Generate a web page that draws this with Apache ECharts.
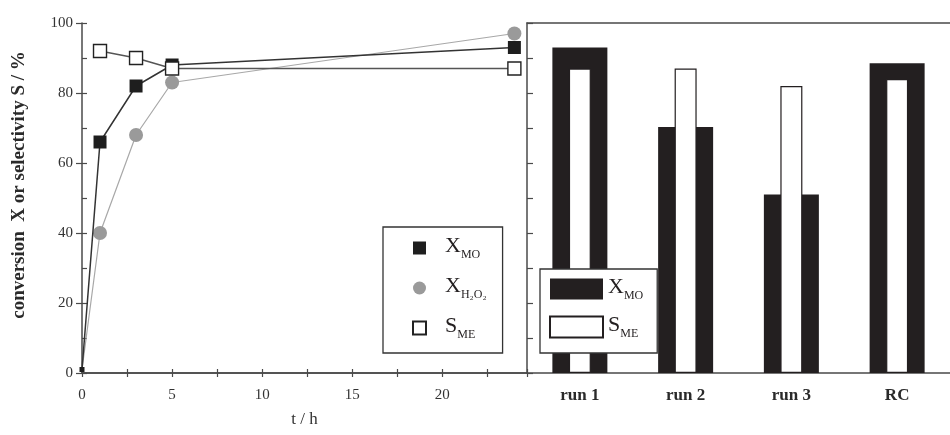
<!DOCTYPE html>
<html>
<head>
<meta charset="utf-8">
<script src="https://cdn.jsdelivr.net/npm/echarts@6/dist/echarts.min.js"></script>
<style>
  html, body { margin: 0; padding: 0; background: #fff; }
  #chart { width: 950px; height: 435px; }
</style>
</head>
<body>
<div id="chart"></div>
<script>
// Reaction time course (left panel)
const timeHours = [0, 1, 3, 5, 24];
const convMO = [1, 66, 82, 88, 93];
const convH2O2 = [1, 40, 68, 83, 97];
const selTime = [1, 3, 5, 24];
const selME = [92, 90, 87, 87];

// Catalyst reuse runs (right panel)
const runLabels = ['run 1', 'run 2', 'run 3', 'RC'];
const runConvMO = [93, 70.3, 51, 88.5];
const runSelME = [87, 87, 82, 84];

const yTicks = [0, 20, 40, 60, 80, 100];

const SERIF = '"Liberation Serif", "DejaVu Serif", serif';
const AX = '#4a4a4a';
const INK = '#231f20';

const pairs = (xs, ys) => xs.map((x, i) => [x, ys[i]]);

// legend labels: large letter with a lowered subscript
const richFor = (pad) => ({
  main: { fontFamily: SERIF, fontSize: 22, color: INK, lineHeight: 26, padding: [0, 0, 4, pad] },
  sub: { fontFamily: SERIF, fontSize: 12, color: INK, lineHeight: 12, verticalAlign: 'bottom' }
});
const legendText = {
  'X_MO': '{main|X}{sub|MO}',
  'X_H2O2': '{main|X}{sub|H₂O₂}',
  'S_ME': '{main|S}{sub|ME}',
  'X_MO runs': '{main|X}{sub|MO}',
  'S_ME runs': '{main|S}{sub|ME}'
};

const chart = echarts.init(document.getElementById('chart'), null, { renderer: 'canvas' });

const option = {
  backgroundColor: '#fff',
  animation: false,
  grid: [
    { left: 82, top: 23, width: 445, height: 350 },
    { left: 527, top: 23, right: -8, height: 350 }
  ],
  xAxis: [
    {
      gridIndex: 0, type: 'value', position: 'bottom', min: 0, max: 24.7, interval: 2.5,
      axisLine: { lineStyle: { color: AX, width: 1.5 } },
      axisTick: { inside: true, length: 4, lineStyle: { color: AX, width: 1.2 } },
      splitLine: { show: false },
      axisLabel: {
        margin: 15, fontFamily: SERIF, fontSize: 15, color: '#333',
        formatter: v => (v % 5 === 0 ? String(v) : '')
      },
      name: 't / h', nameLocation: 'middle', nameGap: 38,
      nameTextStyle: { fontFamily: SERIF, fontSize: 17, color: '#333' }
    },
    {
      gridIndex: 0, type: 'value', position: 'top', min: 0, max: 24.7, interval: 2.5,
      axisLine: { lineStyle: { color: AX, width: 1.5 } },
      axisTick: { inside: true, length: 4, lineStyle: { color: AX, width: 1.2 } },
      splitLine: { show: false },
      axisLabel: { show: false }
    },
    {
      gridIndex: 1, type: 'category', position: 'bottom', data: runLabels,
      axisLine: { lineStyle: { color: AX, width: 1.5 } },
      axisTick: { alignWithLabel: true, inside: true, length: 2, lineStyle: { color: AX } },
      axisLabel: {
        margin: 14, fontFamily: SERIF, fontSize: 17, fontWeight: 'bold', color: '#2a2a2a'
      }
    },
    {
      gridIndex: 1, type: 'category', position: 'top', data: runLabels,
      axisLine: { lineStyle: { color: AX, width: 1.5 } },
      axisTick: { alignWithLabel: true, inside: true, length: 2, lineStyle: { color: '#bbb' } },
      axisLabel: { show: false }
    }
  ],
  yAxis: [
    {
      gridIndex: 0, type: 'value', position: 'left', min: 0, max: 100, interval: 10,
      axisLine: { show: true, lineStyle: { color: AX, width: 1.5 } },
      axisTick: { show: true, inside: true, length: 5, lineStyle: { color: AX, width: 1.2 } },
      splitLine: { show: false },
      axisLabel: {
        margin: 9, fontFamily: SERIF, fontSize: 15, color: '#333',
        formatter: v => (yTicks.indexOf(v) >= 0 ? String(v) : '')
      },
      name: 'conversion  X or selectivity S / %', nameLocation: 'middle', nameGap: 53,
      nameTextStyle: {
        fontFamily: SERIF, fontSize: 19, fontWeight: 'bold', color: '#2a2a2a',
        padding: [0, 0, 0, 26]
      }
    },
    {
      gridIndex: 0, type: 'value', position: 'right', min: 0, max: 100, interval: 20,
      axisLine: { show: false },
      axisTick: { show: true, inside: true, length: 6, lineStyle: { color: AX, width: 1.2 } },
      splitLine: { show: false },
      axisLabel: { show: false }
    },
    {
      gridIndex: 1, type: 'value', position: 'left', min: 0, max: 100, interval: 10,
      axisLine: { show: true, lineStyle: { color: AX, width: 1.5 } },
      axisTick: { show: true, inside: true, length: 6, lineStyle: { color: AX, width: 1.2 } },
      splitLine: { show: false },
      axisLabel: { show: false }
    }
  ],
  legend: [
    {
      data: [
        { name: 'X_MO', icon: 'rect' },
        { name: 'X_H2O2', icon: 'circle' },
        { name: 'S_ME', icon: 'rect' }
      ],
      orient: 'vertical', left: 383, top: 227,
      padding: [8, 16, 12, 29], itemGap: 14,
      itemWidth: 13, itemHeight: 13,
      borderColor: '#333', borderWidth: 1.3, backgroundColor: '#fff',
      selectedMode: false,
      formatter: n => legendText[n],
      textStyle: { rich: richFor(14) }
    },
    {
      data: [
        { name: 'X_MO runs', icon: 'rect' },
        { name: 'S_ME runs', icon: 'rect' }
      ],
      orient: 'vertical', left: 540, top: 269,
      padding: [7, 14, 13, 9], itemGap: 12,
      itemWidth: 53, itemHeight: 21,
      borderColor: '#333', borderWidth: 1.3, backgroundColor: '#fff',
      selectedMode: false, z: 10,
      formatter: n => legendText[n],
      textStyle: { rich: richFor(0) }
    }
  ],
  series: [
    {
      name: 'X_H2O2', type: 'line', xAxisIndex: 0, yAxisIndex: 0,
      data: pairs(timeHours, convH2O2),
      symbol: 'circle', symbolSize: (v, p) => (p.dataIndex === 0 ? 0 : 14),
      itemStyle: { color: '#9a9a9a' },
      lineStyle: { color: '#a8a8a8', width: 1.2 },
      z: 2
    },
    {
      name: 'X_MO', type: 'line', xAxisIndex: 0, yAxisIndex: 0,
      data: pairs(timeHours, convMO),
      symbol: 'rect', symbolSize: (v, p) => (p.dataIndex === 0 ? 5 : 13),
      itemStyle: { color: '#1e1e1e' },
      lineStyle: { color: '#333', width: 1.5 },
      z: 3
    },
    {
      name: 'S_ME', type: 'line', xAxisIndex: 0, yAxisIndex: 0,
      data: pairs(selTime, selME),
      symbol: 'rect', symbolSize: 13,
      itemStyle: { color: '#fff', borderColor: '#222', borderWidth: 1.4 },
      lineStyle: { color: '#555', width: 1.5 },
      z: 4
    },
    {
      name: 'X_MO runs', type: 'bar', xAxisIndex: 2, yAxisIndex: 2,
      data: runConvMO, barWidth: 55,
      itemStyle: { color: INK },
      z: 2
    },
    {
      name: 'S_ME runs', type: 'bar', xAxisIndex: 3, yAxisIndex: 2,
      data: runSelME, barWidth: 22,
      itemStyle: { color: '#fff', borderColor: INK, borderWidth: 1.2 },
      z: 3
    }
  ]
};

chart.setOption(option);
</script>
</body>
</html>
